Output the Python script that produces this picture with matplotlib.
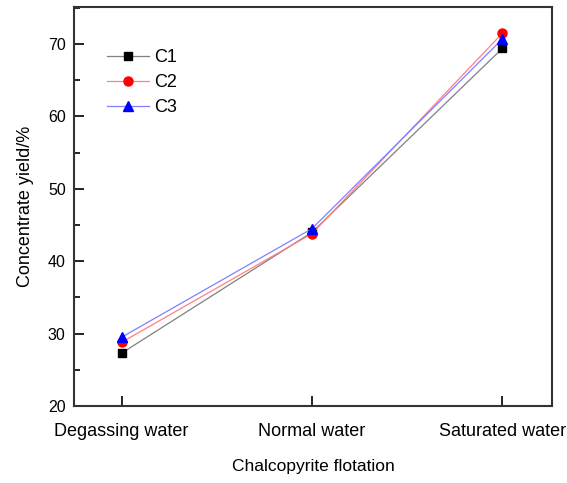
import numpy as np
import matplotlib.pyplot as plt
from matplotlib.ticker import MultipleLocator

plt.rcParams['font.family'] = ['Liberation Sans', 'DejaVu Sans']
plt.rcParams['xtick.direction'] = 'in'
plt.rcParams['ytick.direction'] = 'in'

# data
categories = ["Degassing water", "Normal water", "Saturated water"]
c1 = [27.3, 44.0, 69.4]
c2 = [28.8, 43.8, 71.5]
c3 = [29.5, 44.5, 70.7]

x = np.arange(len(categories))

fig = plt.figure(figsize=(5.67, 4.83), dpi=100)
ax = fig.add_axes([0.1305, 0.1594, 0.843, 0.826])

ax.plot(x, c1, color="#808080", lw=0.9, marker="s", ms=6, mfc="black", mec="black", label="C1")
ax.plot(x, c2, color="#ff8080", lw=0.9, marker="o", ms=6.5, mfc="red", mec="red", label="C2")
ax.plot(x, c3, color="#8080ff", lw=0.9, marker="^", ms=7, mfc="blue", mec="blue", label="C3")

ax.set_xlim(-0.25, 2.26)
ax.set_ylim(20, 75.1)
ax.set_xticks(x)
ax.set_xticklabels(categories, fontsize=13)
ax.yaxis.set_major_locator(MultipleLocator(10))
ax.yaxis.set_minor_locator(MultipleLocator(5))
ax.tick_params(axis="y", labelsize=11.5)
ax.tick_params(direction="in", length=7, width=1.2, pad=6)
ax.tick_params(which="minor", direction="in", length=4, width=1.2)
ax.tick_params(axis="x", pad=12)

for s in ax.spines.values():
    s.set_linewidth(1.5)
    s.set_color("#333333")

ax.set_xlabel("Chalcopyrite flotation", fontsize=12.5, labelpad=14)
ax.set_ylabel("Concentrate yield/%", fontsize=13, labelpad=10)

ax.legend(loc="upper left", bbox_to_anchor=(0.035, 0.935), frameon=False, fontsize=13,
          handlelength=2.3, handletextpad=0.3, labelspacing=0.45)

fig.savefig("out.png", dpi=100)
